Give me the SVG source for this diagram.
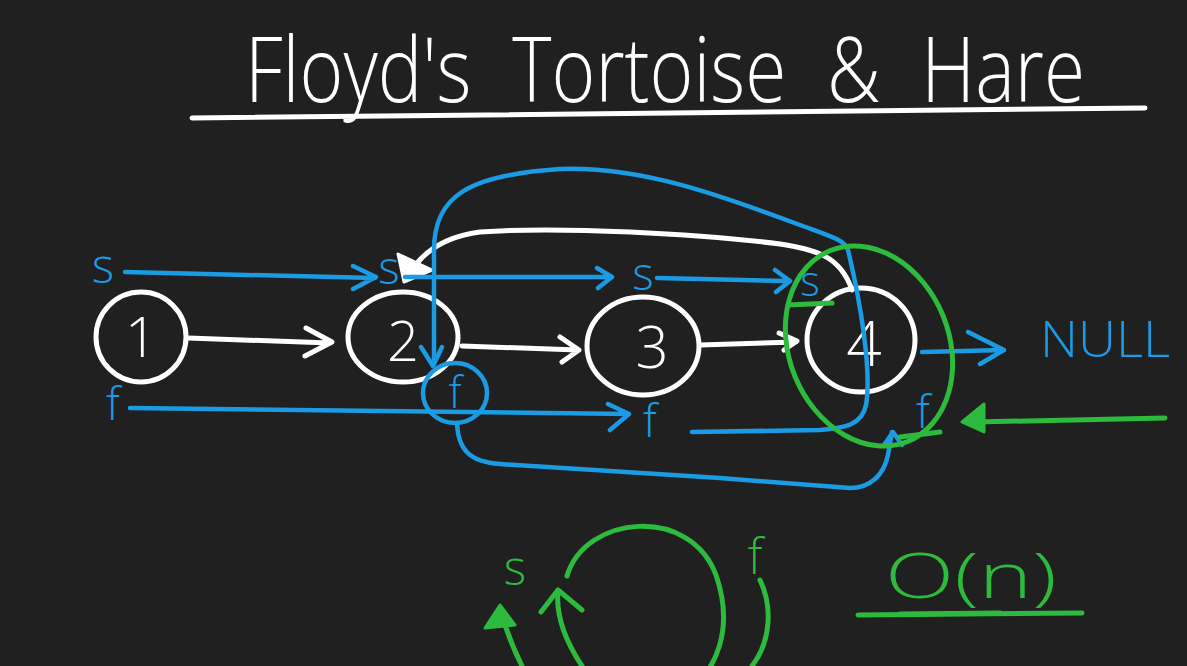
<svg xmlns="http://www.w3.org/2000/svg" width="1187" height="666" viewBox="0 0 1187 666">
<style>
.w{fill:none;stroke:#ffffff;stroke-width:5;stroke-linecap:round;stroke-linejoin:round}
.b{fill:none;stroke:#1b9be3;stroke-width:4.5;stroke-linecap:round;stroke-linejoin:round}
.g{fill:none;stroke:#2dbb3e;stroke-width:5;stroke-linecap:round;stroke-linejoin:round}
.t{font-family:"Open Sans","Liberation Sans",sans-serif;font-weight:300}
.tw{fill:#ffffff}
.tb{fill:#1b9be3}
.tg{fill:#2dbb3e}
</style>
<rect width="1187" height="666" fill="#202020"/>
<g id="title">
<text class="t tw" transform="translate(245 102) scale(1 1.3)" x="0" y="0" font-size="70" textLength="840" lengthAdjust="spacingAndGlyphs" word-spacing="20">Floyd's Tortoise &amp; Hare</text>
<path class="w" d="M192 118 L1145 108"/>
</g>
<g id="node1">
<ellipse class="w" cx="141" cy="337" rx="45" ry="45"/>
<text class="t tw" x="141" y="357" font-size="56" text-anchor="middle">1</text>
</g>
<g id="node2">
<ellipse class="w" cx="403" cy="337" rx="55" ry="45"/>
<text class="t tw" x="403" y="361" font-size="56" text-anchor="middle">2</text>
</g>
<g id="node3">
<ellipse class="w" cx="643" cy="346" rx="56" ry="49"/>
<text class="t tw" x="652" y="368" font-size="58" text-anchor="middle">3</text>
</g>
<g id="node4">
<ellipse class="w" cx="861" cy="340" rx="54" ry="52"/>
<text class="t tw" x="864" y="366" font-size="62" text-anchor="middle">4</text>
</g>
<g id="connectors">
<path class="w" d="M188 338 L330 343 M306 328 L332 342 L305 356"/>
<path class="w" d="M462 346 L578 350 M560 337 L579 350 L562 362"/>
<path class="w" d="M700 345 L796 342 M779 333 L797 341 L784 350"/>
<path class="w" d="M852 290 C840 255 815 250 780 244 C700 234 560 226 480 232 C450 236 430 248 418 262"/>
<path d="M398 254 L432 270 L404 282 Z" fill="#ffffff" stroke="#ffffff" stroke-width="3" stroke-linejoin="round"/>
<path class="b" d="M125 272 L375 278 M353 266 L376 277 L353 289"/>
<path class="b" d="M405 277 L610 277 M597 268 L612 277 L598 288"/>
<path class="b" d="M657 278 L788 281 M775 270 L790 281 L776 292"/>
<path class="b" d="M434 362 L434 250 C434 195 470 175 560 169 C640 166 720 195 800 225 C830 236 845 240 848 250 C860 300 872 370 866 405 C862 425 845 428 820 430 L692 432"/>
<path class="b" stroke-width="6" d="M421 347 L433 366 L442 347"/>
<path class="b" d="M130 408 L628 414 M608 404 L629 414 L610 430"/>
<ellipse class="b" cx="455" cy="393" rx="32" ry="30"/>
<path class="b" d="M457 423 C458 450 470 462 500 464 L720 478 L850 488 C870 488 884 475 888 455 L892 432 M884 445 L893 432 L902 445"/>
<path class="b" stroke-width="6" d="M922 352 L1004 350 M968 332 L1004 350 L980 364"/>
<ellipse class="g" cx="869" cy="346" rx="80" ry="103" transform="rotate(-22 869 346)"/>
<path class="g" d="M788 305 L832 303"/>
<path class="g" d="M1165 418 L975 422"/>
<path d="M962 422 L984 404 L984 432 Z" fill="#2dbb3e" stroke="#2dbb3e" stroke-width="3" stroke-linejoin="round"/>
<path class="g" stroke-width="9" d="M900 437 L940 432"/>
</g>
<g id="labels">
<text class="t tb" x="103" y="283" font-size="48" text-anchor="middle">s</text>
<text class="t tb" x="389" y="284" font-size="46" text-anchor="middle">s</text>
<text class="t tb" x="643" y="290" font-size="46" text-anchor="middle">s</text>
<text class="t tb" x="810" y="296" font-size="42" text-anchor="middle">s</text>
<text class="t tb" x="113" y="420" font-size="46" text-anchor="middle">f</text>
<text class="t tb" x="455" y="408" font-size="44" text-anchor="middle">f</text>
<text class="t tb" x="650" y="437" font-size="46" text-anchor="middle">f</text>
<text class="t tb" x="923" y="428" font-size="46" text-anchor="middle">f</text>
<text class="t tb" x="1040" y="357" font-size="50" textLength="130" lengthAdjust="spacingAndGlyphs">NULL</text>
</g>
<g id="cycle">
<path class="g" d="M567 576 C585 515 690 505 716 575 C735 630 715 670 690 690"/>
<path class="g" d="M600 690 C575 660 555 625 558 592 M541 612 L558 590 L582 610"/>
<path d="M485 628 L500 605 L515 625 Z" fill="#2dbb3e" stroke="#2dbb3e" stroke-width="3" stroke-linejoin="round"/>
<path class="g" d="M505 625 C510 640 515 652 522 666"/>
<path class="g" d="M760 580 C772 605 772 640 752 666"/>
<text class="t tg" x="515" y="585" font-size="48" text-anchor="middle">s</text>
<text class="t tg" x="755" y="574" font-size="50" text-anchor="middle">f</text>
<text class="t tg" x="885" y="598" font-size="62" textLength="172" lengthAdjust="spacingAndGlyphs">O(n)</text>
<path class="g" d="M858 615 L1082 613"/>
<path class="g" stroke-width="12" d="M900 614 L1000 613"/>
</g>
</svg>
